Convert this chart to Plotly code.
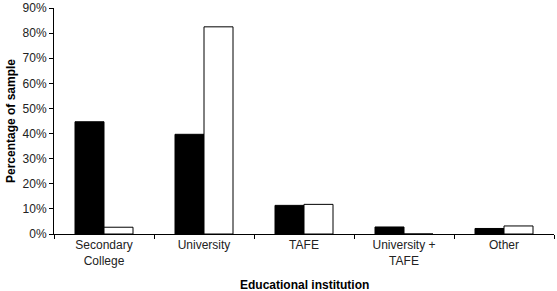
import plotly.graph_objects as go

categories = ["Secondary<br>College", "University", "TAFE", "University +<br>TAFE", "Other"]
series_black = [44.7, 39.7, 11.4, 2.8, 2.2]
series_white = [2.7, 82.5, 11.8, 0.0, 3.2]
y_ticks = [0, 10, 20, 30, 40, 50, 60, 70, 80, 90]
y_tick_labels = [f"{v}%" for v in y_ticks]

font_family = "Liberation Sans, Arial, sans-serif"

fig = go.Figure()
fig.add_trace(go.Bar(x=categories, y=series_black, marker=dict(color="black", line=dict(color="black", width=1)), showlegend=False))
fig.add_trace(go.Bar(x=categories, y=series_white, marker=dict(color="white", line=dict(color="black", width=1)), showlegend=False))

fig.update_layout(
    width=557, height=291,
    margin=dict(l=54, r=3, t=8, b=57),
    barmode="group", bargap=0.42, bargroupgap=0,
    plot_bgcolor="white", paper_bgcolor="white",
    font=dict(family=font_family, size=12, color="black"),
    annotations=[dict(
        text="<b>Educational institution</b>", xref="paper", yref="paper",
        x=0.5, y=0, xanchor="center", yanchor="top", yshift=-42,
        showarrow=False, font=dict(size=12, color="black"),
    )],
)
fig.update_xaxes(
    showline=True, linecolor="black", linewidth=1,
    ticks="outside", tickson="boundaries", ticklen=4, tickcolor="black",
    showgrid=False, tickfont=dict(size=12, color="#222"),
    automargin=False,
)
fig.update_yaxes(
    range=[0, 90], tickvals=y_ticks, ticktext=y_tick_labels,
    ticklabeloverflow="allow",
    showline=True, linecolor="black", linewidth=1,
    ticks="outside", ticklen=4, tickcolor="black",
    showgrid=False, zeroline=False, tickfont=dict(size=12, color="#222"),
    title=dict(text="<b>Percentage of sample</b>", font=dict(size=12), standoff=4),
    automargin=False,
)

fig.write_html("out.html")
